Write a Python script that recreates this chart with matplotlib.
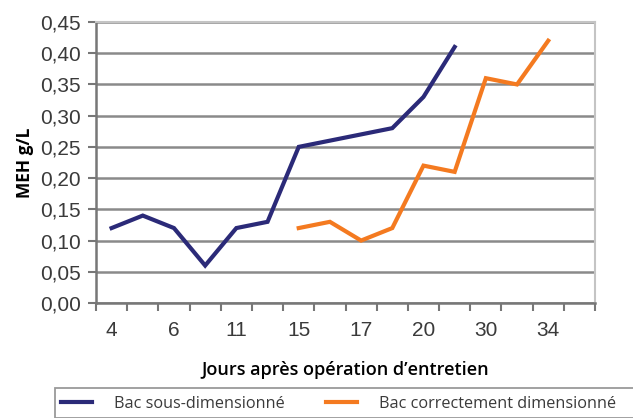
import matplotlib.pyplot as plt
from matplotlib.patches import Rectangle
from matplotlib.ticker import FuncFormatter

# Jours après l'opération (un libellé sur deux affiché)
jours = ['4', '', '6', '', '11', '', '15', '', '17', '', '20', '', '30', '', '34', '']

# MEH en g/L, None = pas de mesure
sous_dim = [0.12, 0.14, 0.12, 0.06, 0.12, 0.13, 0.25, 0.26, 0.27, 0.28, 0.33, 0.41,
            None, None, None, None]
correct_dim = [None, None, None, None, None, None, 0.12, 0.13, 0.10, 0.12, 0.22, 0.21,
               0.36, 0.35, 0.42, None]

bleu = '#2b2a78'
orange = '#f47a20'
gris_texte = '#3a3a3a'

W, H = 633, 418
fig = plt.figure(figsize=(W / 100, H / 100), dpi=100)
ax = fig.add_axes([96 / W, 1 - 303 / H, 499 / W, 281 / H])

x = [i + 0.5 for i in range(len(jours))]

def trace(vals, couleur, nom):
    xs = [xi for xi, v in zip(x, vals) if v is not None]
    ys = [v for v in vals if v is not None]
    return ax.plot(xs, ys, color=couleur, lw=3, solid_joinstyle='miter', label=nom)[0]

l1 = trace(sous_dim, bleu, 'Bac sous-dimensionné')
l2 = trace(correct_dim, orange, 'Bac correctement dimensionné')

ax.set_xlim(0, len(jours))
ax.set_ylim(0, 0.45)
ax.set_yticks([i * 0.05 for i in range(10)])
ax.yaxis.set_major_formatter(FuncFormatter(lambda v, p: f'{v:.2f}'.replace('.', ',')))
ax.set_xticks(range(len(jours) + 1))
ax.set_xticklabels([])
ax.set_xticks(x, minor=True)
ax.set_xticklabels(jours, minor=True)
ax.tick_params(axis='x', which='minor', length=0, pad=13)
ax.tick_params(axis='x', which='major', direction='out', length=6, width=1.5, color='#777777')
ax.tick_params(axis='y', direction='out', length=6, width=1.5, color='#777777', pad=5)
for lab in ax.get_xticklabels(minor=True) + ax.get_yticklabels():
    lab.set_family('Liberation Sans')
    lab.set_fontsize(15)
    lab.set_color(gris_texte)

ax.grid(axis='y', color='#8a8a8a', lw=1.8)
ax.set_axisbelow(True)
for s in ['top', 'right']:
    ax.spines[s].set_color('#c4c4c4')
    ax.spines[s].set_linewidth(1.5)
for s in ['left', 'bottom']:
    ax.spines[s].set_color('#777777')
    ax.spines[s].set_linewidth(1.8)

ax.set_ylabel('MEH g/L', fontsize=12.5, fontweight='bold', family='Open Sans', labelpad=4)
ax.set_xlabel('Jours après opération d’entretien', fontsize=13, fontweight='semibold',
              family='Open Sans', color='black', labelpad=15)

# cadre de légende qui déborde à droite et en bas
fig.patches.append(Rectangle((55 / W, 0), 600 / W, 1 - 388 / H, transform=fig.transFigure,
                             fill=False, edgecolor='#9a9a9a', lw=1.3))
leg = fig.legend(handles=[l1, l2], loc='center left', bbox_to_anchor=(61 / W, 1 - 404 / H),
                 borderaxespad=0, ncol=2, frameon=False, handlelength=1.9,
                 handletextpad=1.35, columnspacing=2.55, borderpad=0,
                 prop={'family': 'Open Sans', 'size': 11.7})
for t in leg.get_texts():
    t.set_color(gris_texte)

fig.savefig('out.png', dpi=100)
